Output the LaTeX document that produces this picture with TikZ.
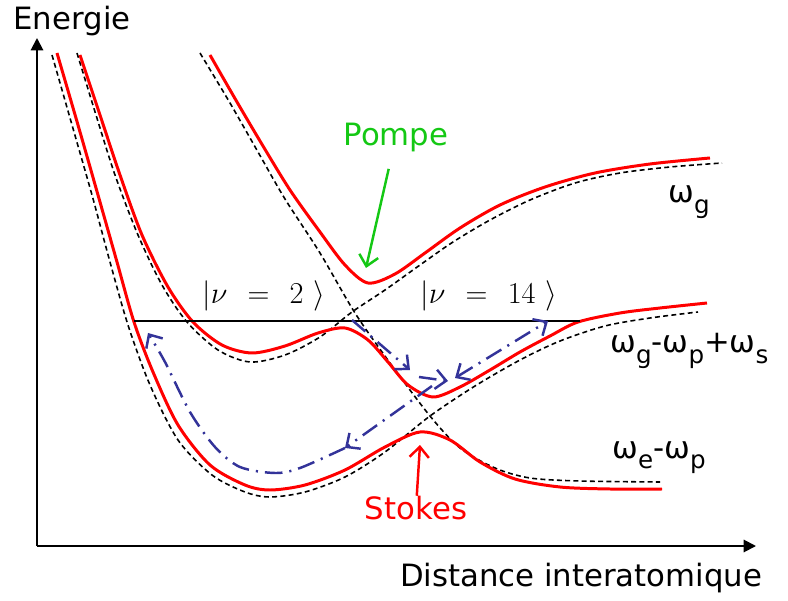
\documentclass[tikz,border=0pt]{standalone}
\usepackage{fontspec}
\setmainfont{DejaVu Sans}
\usetikzlibrary{arrows.meta}
\usetikzlibrary{positioning}

\definecolor{bleupaquet}{RGB}{51,51,153}
\definecolor{vertpompe}{RGB}{20,200,20}
\newcommand{\ind}[1]{\raisebox{-6pt}{\fontsize{14}{14}\selectfont #1}}

\begin{document}
\begin{tikzpicture}[x=0.02cm, y=-0.02cm, every node/.style={inner sep=0pt, font=\fontsize{17.5}{21}\selectfont},
    pointe/.tip={Straight Barb[length=6pt, width=11pt]},
    adiab/.style={red, line width=1.7pt},
    diab/.style={line width=0.9pt, dash pattern=on 2.8pt off 1.9pt},
    paquet/.style={bleupaquet, line width=1.4pt, dash pattern=on 10pt off 4pt on 1.2pt off 4pt},
    axe/.style={line width=1.1pt, -{Triangle[length=7pt, width=7pt]}},
    fleche/.style={line width=1.4pt, -{Straight Barb[length=6pt, width=11pt]}}]
        \useasboundingbox (0,0) rectangle (788,601);

        \coordinate (origine) at (37,546);
        \coordinate (haut) at (37,38);
        \coordinate (droite) at (756,546);
        \draw[axe] (origine) -- (haut);
        \draw[axe] (origine) -- (droite);

        \node (energie) at (72,21) {Energie};
        \node (distance) at (581,578) {Distance interatomique};

        % courbes diabatiques
        \draw[diab] plot[smooth] coordinates {(52,55) (72,125) (92,195) (110,262) (128,325) (150,385) (178,440) (212,475) (245,492) (270,497) (305,492) (345,477) (385,452) (430,416) (475,386) (520,360) (560,341) (605,326) (650,318) (698,312)};
        \draw[diab] plot[smooth] coordinates {(77,53) (96,115) (115,175) (138,235) (162,285) (187,322) (218,350) (250,362) (285,355) (320,337) (352,312) (385,290) (420,265) (453,242) (490,220) (530,200) (575,183) (620,173) (670,167) (722,163)};
        \draw[diab] plot[smooth] coordinates {(200,53) (230,103) (258,152) (285,199) (320,253) (355,313) (390,363) (430,416) (460,448) (495,468) (530,478) (580,481) (660,482)};

        % courbes adiabatiques
        \draw[adiab] plot[smooth] coordinates {(57,53) (78,125) (98,195) (117,262) (134,322) (153,372) (178,425) (210,465) (245,485) (270,490) (305,485) (345,470) (385,447) (420,432) (450,440) (480,462) (515,479) (560,487) (610,489) (662,489)};
        \draw[adiab] plot[smooth] coordinates {(80,55) (100,115) (120,175) (142,235) (168,287) (193,322) (222,345) (252,353) (285,346) (318,333) (345,328) (368,340) (388,362) (408,385) (433,397) (460,387) (490,370) (520,352) (550,336) (578,322) (620,313) (660,308) (707,303)};
        \draw[adiab] plot[smooth] coordinates {(210,55) (237,102) (263,146) (290,190) (320,232) (345,265) (368,283) (395,274) (425,253) (460,228) (500,205) (545,187) (595,173) (650,164) (710,158)};

        \coordinate (niveaug) at (134,321);
        \coordinate (niveaud) at (580,321);
        \draw[line width=1.4pt] (niveaug) -- (niveaud);

        \node[font=\fontsize{19}{22}\selectfont] (nu2) at (264,296) {$\Bigl|\nu\mskip7mu=\mskip7mu2\mskip6mu\Bigr\rangle$};
        \node[font=\fontsize{19}{22}\selectfont] (nu14) at (489,296) {$\Bigl|\nu\mskip7mu=\mskip7mu14\mskip6mu\Bigr\rangle$};

        % paquet d'onde
        \coordinate (croisement) at (352,320);
        \coordinate (descente) at (410,370);
        \draw[paquet, -pointe] (croisement) -- (descente);
        \coordinate (fondg) at (419,377);
        \coordinate (fondd) at (448,381);
        \draw[paquet, -pointe] (fondg) -- (fondd);
        \coordinate (fond) at (455,378);
        \coordinate (tournant) at (548,321);
        \draw[paquet, pointe-pointe] (fond) -- (tournant);
        \coordinate (depart) at (432,386);
        \coordinate (milieu) at (345,448);
        \coordinate (retour) at (148,333);
        \draw[paquet, -pointe] (depart) -- (milieu);
        \draw[paquet, -pointe] plot[smooth] coordinates {(milieu) (300,468) (275,473) (240,467) (215,447) (190,412) (165,362) (retour)};

        \node[text=vertpompe] (pompe) at (396,137) {Pompe};
        \coordinate (pompebout) at (366,268);
        \draw[fleche, vertpompe, shorten <=10pt] (pompe) -- (pompebout);

        \node[text=red] (stokes) at (416,508) {Stokes};
        \coordinate (stokesbout) at (420,445);
        \draw[fleche, red] (stokes) -- (stokesbout);

        \node[anchor=base west] (wg) at (668,203) {ω\ind{g}};
        \node[anchor=base west] (wgps) at (610,353) {ω\ind{g}-ω\ind{p}+ω\ind{s}};
        \node[anchor=base west] (wep) at (612,458) {ω\ind{e}-ω\ind{p}};
      \end{tikzpicture}
\end{document}
